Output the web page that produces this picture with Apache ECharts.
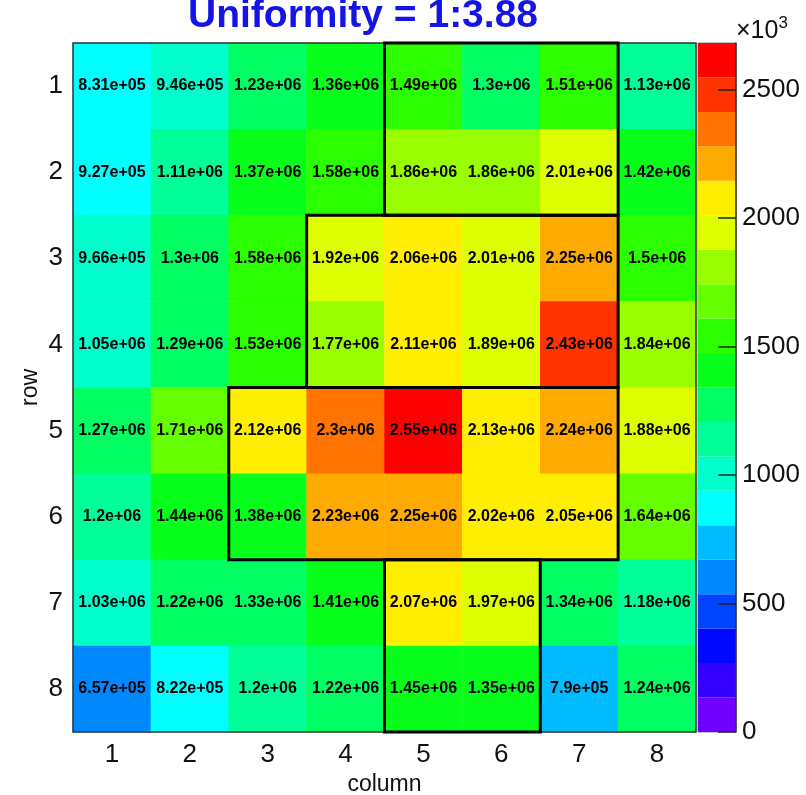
<!DOCTYPE html>
<html>
<head>
<meta charset="utf-8">
<script src="https://cdn.jsdelivr.net/npm/echarts@6/dist/echarts.min.js"></script>
<style>
  html, body { margin: 0; padding: 0; background: #ffffff; }
  #chart { width: 806px; height: 795px; }
</style>
</head>
<body>
<div id="chart"></div>
<script>
// Channel labels along each axis
const columns = ['1', '2', '3', '4', '5', '6', '7', '8'];
const rows = ['1', '2', '3', '4', '5', '6', '7', '8'];

// Counts per channel, one array per row (row 1 at the top)
const row1 = [8.31e5, 9.46e5, 1.23e6, 1.36e6, 1.49e6, 1.3e6, 1.51e6, 1.13e6];
const row2 = [9.27e5, 1.11e6, 1.37e6, 1.58e6, 1.86e6, 1.86e6, 2.01e6, 1.42e6];
const row3 = [9.66e5, 1.3e6, 1.58e6, 1.92e6, 2.06e6, 2.01e6, 2.25e6, 1.5e6];
const row4 = [1.05e6, 1.29e6, 1.53e6, 1.77e6, 2.11e6, 1.89e6, 2.43e6, 1.84e6];
const row5 = [1.27e6, 1.71e6, 2.12e6, 2.3e6, 2.55e6, 2.13e6, 2.24e6, 1.88e6];
const row6 = [1.2e6, 1.44e6, 1.38e6, 2.23e6, 2.25e6, 2.02e6, 2.05e6, 1.64e6];
const row7 = [1.03e6, 1.22e6, 1.33e6, 1.41e6, 2.07e6, 1.97e6, 1.34e6, 1.18e6];
const row8 = [6.57e5, 8.22e5, 1.2e6, 1.22e6, 1.45e6, 1.35e6, 7.9e5, 1.24e6];
const rowValues = [row1, row2, row3, row4, row5, row6, row7, row8];

// Outlined channel groups: [firstColumn, lastColumn, firstRow, lastRow]
const groups = [
  [5, 7, 1, 2],
  [4, 7, 3, 4],
  [3, 7, 5, 6],
  [5, 6, 7, 8]
];

// Colour scale range and contour levels
const zMin = 0;
const zMax = 2.682e6;
const nLevels = 20;
const zTicks = [0, 500, 1000, 1500, 2000, 2500];

const titleText = 'Uniformity = 1:3.88';

// Rainbow palette, one colour per contour level (low to high)
const palette = [
  '#7000ff', '#3300ff', '#0008ff', '#0044ff', '#0088ff',
  '#00bbff', '#00ffff', '#00ffcc', '#00ff99', '#00ff62',
  '#08ff1c', '#2cff00', '#66ff00', '#99ff00', '#ddff00',
  '#ffee00', '#ffaa00', '#ff7300', '#ff3300', '#ff0000'
];

// %g-style formatting with three significant digits, e.g. 8.31e+05
function fmtG(v) {
  const s = v.toExponential(2);
  let [mant, exp] = s.split('e');
  if (mant.indexOf('.') >= 0) mant = mant.replace(/0+$/, '').replace(/\.$/, '');
  const sign = exp[0] === '-' ? '-' : '+';
  let digits = exp.replace(/^[+-]/, '');
  if (digits.length < 2) digits = '0' + digits;
  return mant + 'e' + sign + digits;
}

const heatData = [];
rowValues.forEach((vals, r) => {
  vals.forEach((v, c) => heatData.push([c, r, v]));
});

const step = (zMax - zMin) / nLevels;
const pieces = palette.map((color, i) => {
  const p = { gte: zMin + i * step, color: color };
  if (i < nLevels - 1) p.lt = zMin + (i + 1) * step;
  return p;
});

const FONT = 'Liberation Sans, Helvetica, Arial, sans-serif';

// Colour bar: one stacked segment per contour level
const barSeries = palette.map((color, i) => ({
  type: 'bar',
  xAxisIndex: 1,
  yAxisIndex: 1,
  stack: 'zbar',
  barWidth: '100%',
  silent: true,
  z: 1,
  itemStyle: { color: color },
  data: [step]
}));

function boxRenderer(lineWidth, stroke) {
  return function (params, api) {
    const c0 = api.value(0), c1 = api.value(1), r0 = api.value(2), r1 = api.value(3);
    const p = api.coord([c0 - 1, r0 - 1]);
    const size = api.size([1, 1]);
    return {
      type: 'rect',
      shape: {
        x: p[0] - size[0] / 2,
        y: p[1] - size[1] / 2,
        width: (c1 - c0 + 1) * size[0],
        height: (r1 - r0 + 1) * size[1]
      },
      style: { fill: 'none', stroke: stroke, lineWidth: lineWidth },
      z2: 10
    };
  };
}

const chart = echarts.init(document.getElementById('chart'), null, { renderer: 'canvas' });

chart.setOption({
  animation: false,
  backgroundColor: '#ffffff',
  textStyle: { fontFamily: FONT },
  graphic: [
    {
      type: 'text',
      left: 363 - 175,
      top: -3,
      style: {
        text: titleText,
        font: 'bold 39px ' + FONT,
        fill: '#1414e6'
      }
    },
    {
      type: 'text',
      left: 736,
      top: 15,
      style: {
        text: '{a|×10}{s|3}',
        rich: {
          a: { fontSize: 25, fontFamily: FONT, fill: '#111', verticalAlign: 'bottom' },
          s: { fontSize: 17, fontFamily: FONT, fill: '#111', verticalAlign: 'top', padding: [0, 0, 12, 0] }
        }
      }
    }
  ],
  grid: [
    { left: 73, top: 43, width: 623, height: 689, containLabel: false, outerBoundsMode: 'none' },
    { left: 698, top: 43, width: 38, height: 689, containLabel: false, outerBoundsMode: 'none',
      show: true, borderColor: '#888', borderWidth: 1 }
  ],
  xAxis: [
    {
      type: 'category',
      gridIndex: 0,
      data: columns,
      name: 'column',
      nameLocation: 'middle',
      nameGap: 41,
      nameMoveOverlap: false,
      nameTextStyle: { fontSize: 23, color: '#111', fontFamily: FONT },
      axisLine: { show: false },
      axisTick: { show: false },
      splitLine: { show: false },
      axisLabel: { fontSize: 26, color: '#111', margin: 10, fontFamily: FONT }
    },
    {
      type: 'category',
      gridIndex: 1,
      data: ['z'],
      show: false
    }
  ],
  yAxis: [
    {
      type: 'category',
      gridIndex: 0,
      data: rows,
      inverse: true,
      name: 'row',
      nameLocation: 'middle',
      nameGap: 31,
      nameMoveOverlap: false,
      nameRotate: 90,
      nameTextStyle: { fontSize: 23, color: '#111', fontFamily: FONT },
      axisLine: { show: false },
      axisTick: { show: false },
      splitLine: { show: false },
      axisLabel: { fontSize: 26, color: '#111', margin: 10, fontFamily: FONT }
    },
    {
      type: 'value',
      gridIndex: 1,
      position: 'right',
      z: 8,
      min: zMin,
      max: zMax,
      interval: 500000,
      splitLine: { show: false },
      axisLine: { show: true, lineStyle: { color: '#333', width: 1.5 } },
      axisTick: { show: true, inside: true, length: 18, lineStyle: { color: '#222', width: 1.5 } },
      axisLabel: {
        fontSize: 26,
        color: '#111',
        margin: 6,
        fontFamily: FONT,
        showMaxLabel: false,
        formatter: function (v) {
          const k = Math.round(v / 1000);
          return zTicks.indexOf(k) >= 0 ? String(k) : '';
        }
      }
    }
  ],
  visualMap: {
    type: 'piecewise',
    show: false,
    seriesIndex: 0,
    dimension: 2,
    pieces: pieces
  },
  series: [
    {
      type: 'heatmap',
      xAxisIndex: 0,
      yAxisIndex: 0,
      data: heatData,
      silent: true,
      label: {
        show: true,
        color: '#000',
        fontWeight: 'bold',
        fontSize: 16,
        fontFamily: FONT,
        formatter: function (p) { return fmtG(p.value[2]); }
      },
      emphasis: { disabled: true }
    },
    {
      type: 'custom',
      xAxisIndex: 0,
      yAxisIndex: 0,
      silent: true,
      renderItem: boxRenderer(1.5, '#333'),
      encode: { x: [0, 1], y: [2, 3] },
      data: [[1, columns.length, 1, rows.length]]
    },
    {
      type: 'custom',
      xAxisIndex: 0,
      yAxisIndex: 0,
      silent: true,
      renderItem: boxRenderer(3, '#000'),
      encode: { x: [0, 1], y: [2, 3] },
      data: groups
    }
  ].concat(barSeries)
});
</script>
</body>
</html>
